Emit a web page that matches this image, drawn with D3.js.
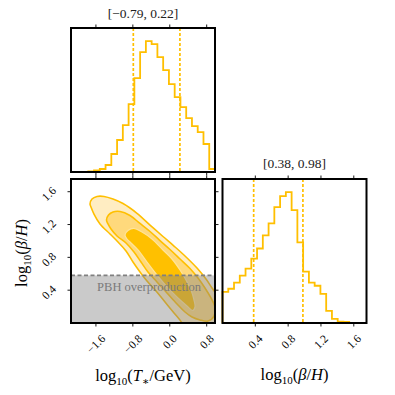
<!DOCTYPE html>
<html>
<head>
<meta charset="utf-8">
<script src="https://cdn.jsdelivr.net/npm/d3@7"></script>
<style>
  body { margin: 0; background: #fff; }
  text { font-family: "Liberation Serif", "DejaVu Serif", serif; }
</style>
</head>
<body>
<div id="chart"></div>
<script>
// ---- data ----
var tRange = [-2.14, 0.98];          // log10(T*/GeV) axis range
var bRange = [0, 1.755];             // log10(beta/H) axis range
var tTicks = [-1.6, -0.8, 0.0, 0.8];
var bTicks = [0.4, 0.8, 1.2, 1.6];
var tQuant = [-0.79, 0.22];
var bQuant = [0.38, 0.98];
var tTitle = "[\u22120.79, 0.22]";
var bTitle = "[0.38, 0.98]";

// 25 bins each
var tCounts = [0, 0, 0, 0.5, 1.5, 3, 7, 18, 32, 47, 68, 94, 120, 131, 128, 115, 102, 88, 75, 65, 54, 46, 40, 28, 3];
var bCounts = [31, 34, 40, 47, 54, 64, 74, 87, 99, 115, 126, 130, 112, 80, 51, 40, 37, 29, 12, 4, 1.3, 1, 0, 0, 0];

var pbhLimit = 0.58;
var pbhText = "PBH overproduction";

// contour outlines [log10 T, log10 beta/H]
var contourOuter = [[-1.728, 1.450], [-1.685, 1.511], [-1.577, 1.542], [-1.425, 1.542], [-1.230, 1.511],
  [-1.013, 1.456], [-0.710, 1.337], [-0.428, 1.194], [-0.147, 1.054], [0.092, 0.938], [0.330, 0.817],
  [0.590, 0.670], [0.785, 0.536], [0.915, 0.427], [1.132, 0.256], [1.348, 0.012], [1.262, -0.207],
  [0.438, -0.207], [0.265, 0.000], [0.092, 0.122], [-0.103, 0.256], [-0.298, 0.390], [-0.493, 0.512],
  [-0.645, 0.622], [-0.797, 0.743], [-0.948, 0.878], [-1.122, 0.987], [-1.295, 1.085], [-1.512, 1.207],
  [-1.642, 1.328], [-1.707, 1.414]];
var contourMiddle = [[-1.371, 1.255], [-1.327, 1.316], [-1.230, 1.353], [-1.078, 1.359], [-0.862, 1.310],
  [-0.645, 1.213], [-0.428, 1.115], [-0.212, 1.005], [0.005, 0.896], [0.222, 0.780], [0.438, 0.664],
  [0.612, 0.548], [0.763, 0.427], [0.893, 0.305], [0.980, 0.195], [0.958, 0.085], [0.828, 0.024],
  [0.655, 0.037], [0.482, 0.073], [0.330, 0.134], [0.157, 0.232], [-0.060, 0.366], [-0.277, 0.500],
  [-0.472, 0.622], [-0.623, 0.743], [-0.775, 0.865], [-0.948, 0.975], [-1.143, 1.060], [-1.273, 1.146],
  [-1.338, 1.207]];
var contourInner = [[-0.970, 1.073], [-0.905, 1.127], [-0.775, 1.152], [-0.602, 1.109], [-0.385, 1.024],
  [-0.147, 0.890], [0.048, 0.780], [0.222, 0.646], [0.352, 0.524], [0.460, 0.402], [0.525, 0.280],
  [0.547, 0.195], [0.493, 0.152], [0.373, 0.207], [0.178, 0.305], [-0.038, 0.427], [-0.277, 0.585],
  [-0.493, 0.743], [-0.688, 0.890], [-0.840, 0.975], [-0.927, 1.024]];

// ---- layout ----
var width = 395, height = 395;
var size = 144;
var left1 = 71, left2 = 222.5, top1 = 28, top2 = 179;
var orange = "#ffbf00";
var tickLen = 3.5;
var tickFont = 11.5;

var svg = d3.select("#chart").append("svg")
  .attr("width", width)
  .attr("height", height);

var xT = d3.scaleLinear().domain(tRange).range([left1, left1 + size]);
var yB = d3.scaleLinear().domain(bRange).range([top2 + size, top2]);
var xB = d3.scaleLinear().domain(bRange).range([left2, left2 + size]);

// step histogram path
function histPath(counts, range, xs, ys) {
  var n = counts.length;
  var w = (range[1] - range[0]) / n;
  var pts = [[range[0], 0]];
  counts.forEach(function(c, i) {
    pts.push([range[0] + i * w, c]);
    pts.push([range[0] + (i + 1) * w, c]);
  });
  pts.push([range[1], 0]);
  return d3.line()
    .x(function(d) { return xs(d[0]); })
    .y(function(d) { return ys(d[1]); })(pts);
}

// ticks for one side of a panel
function ticks(g, scale, side, vals, x0, y0) {
  vals.forEach(function(v) {
    var p = scale(v);
    var line = g.append("line").attr("stroke", "#000").attr("stroke-width", 0.9);
    if (side == "bottom") line.attr("x1", p).attr("x2", p).attr("y1", y0).attr("y2", y0 + tickLen);
    if (side == "top") line.attr("x1", p).attr("x2", p).attr("y1", y0).attr("y2", y0 - tickLen);
    if (side == "left") line.attr("y1", p).attr("y2", p).attr("x1", x0).attr("x2", x0 - tickLen);
    if (side == "right") line.attr("y1", p).attr("y2", p).attr("x1", x0).attr("x2", x0 + tickLen);
  });
}

function fmt(v) {
  var s = d3.format(".1f")(Math.abs(v));
  return (v < 0 ? "\u2212" : "") + s;
}

// rotated tick labels
function xLabels(g, scale, vals, y0) {
  vals.forEach(function(v) {
    var t = g.append("text")
      .attr("font-size", tickFont)
      .attr("text-anchor", "middle")
      .attr("dominant-baseline", "central")
      .text(fmt(v));
    var w = t.node().getComputedTextLength();
    var box = (w + tickFont) * 0.707;
    t.attr("transform", "translate(" + scale(v) + "," + (y0 + 9.5 + box / 2) + ") rotate(-45)");
  });
}
function yLabels(g, scale, vals, x0) {
  vals.forEach(function(v) {
    var t = g.append("text")
      .attr("font-size", tickFont)
      .attr("text-anchor", "middle")
      .attr("dominant-baseline", "central")
      .text(fmt(v));
    var w = t.node().getComputedTextLength();
    var box = (w + tickFont) * 0.707;
    t.attr("transform", "translate(" + (x0 - 13 - box / 2) + "," + (scale(v) + 2) + ") rotate(-45)");
  });
}

function frame(x, y) {
  svg.append("rect")
    .attr("x", x).attr("y", y)
    .attr("width", size).attr("height", size)
    .attr("fill", "none")
    .attr("stroke", "#000")
    .attr("stroke-width", 2);
}

function quantLines(g, scale, vals, y0) {
  vals.forEach(function(v) {
    g.append("line")
      .attr("x1", scale(v)).attr("x2", scale(v))
      .attr("y1", y0).attr("y2", y0 + size)
      .attr("stroke", orange)
      .attr("stroke-width", 1.7)
      .attr("stroke-dasharray", "3,2");
  });
}

// ---- top histogram (T*) ----
var gTop = svg.append("g");
var yTopHist = d3.scaleLinear().domain([0, 1.1 * d3.max(tCounts)]).range([top1 + size, top1]);
gTop.append("path")
  .attr("d", histPath(tCounts, tRange, xT, yTopHist))
  .attr("fill", "none")
  .attr("stroke", orange)
  .attr("stroke-width", 1.8);
quantLines(gTop, xT, tQuant, top1);
ticks(gTop, xT, "top", tTicks, 0, top1);
ticks(gTop, xT, "bottom", tTicks, 0, top1 + size);
frame(left1, top1);
svg.append("text")
  .attr("x", left1 + size / 2).attr("y", 17.5)
  .attr("text-anchor", "middle")
  .attr("font-size", 13.5)
  .attr("fill", "#222")
  .text(tTitle);

// ---- right histogram (beta/H) ----
var gRight = svg.append("g");
var yRightHist = d3.scaleLinear().domain([0, 1.1 * d3.max(bCounts)]).range([top2 + size, top2]);
gRight.append("path")
  .attr("d", histPath(bCounts, bRange, xB, yRightHist))
  .attr("fill", "none")
  .attr("stroke", orange)
  .attr("stroke-width", 1.8);
quantLines(gRight, xB, bQuant, top2);
ticks(gRight, xB, "top", bTicks, 0, top2);
ticks(gRight, xB, "bottom", bTicks, 0, top2 + size);
xLabels(gRight, xB, bTicks, top2 + size);
frame(left2, top2);
svg.append("text")
  .attr("x", left2 + size / 2).attr("y", 167.5)
  .attr("text-anchor", "middle")
  .attr("font-size", 13.5)
  .attr("fill", "#222")
  .text(bTitle);

// ---- 2d panel ----
svg.append("clipPath").attr("id", "clip2d")
  .append("rect").attr("x", left1).attr("y", top2).attr("width", size).attr("height", size);
var g2 = svg.append("g").attr("clip-path", "url(#clip2d)");

var contourLine = d3.line()
  .x(function(d) { return xT(d[0]); })
  .y(function(d) { return yB(d[1]); })
  .curve(d3.curveCatmullRomClosed.alpha(0.5));

g2.append("path").attr("d", contourLine(contourOuter))
  .attr("fill", "#ffedc2").attr("stroke", orange).attr("stroke-width", 1.6);
g2.append("path").attr("d", contourLine(contourMiddle))
  .attr("fill", "#ffd97c").attr("stroke", orange).attr("stroke-width", 1.6);
g2.append("path").attr("d", contourLine(contourInner))
  .attr("fill", "#ffc000").attr("stroke", "#ffe49a").attr("stroke-width", 1.2);

// PBH overproduction region
g2.append("rect")
  .attr("x", left1).attr("width", size)
  .attr("y", yB(pbhLimit)).attr("height", yB(0) - yB(pbhLimit))
  .attr("fill", "#808080").attr("opacity", 0.42);
g2.append("line")
  .attr("x1", left1).attr("x2", left1 + size)
  .attr("y1", yB(pbhLimit)).attr("y2", yB(pbhLimit))
  .attr("stroke", "#808080").attr("stroke-width", 1.6)
  .attr("stroke-dasharray", "4,2.5");
g2.append("text")
  .attr("x", 149).attr("y", yB(pbhLimit) + 15.5)
  .attr("text-anchor", "middle")
  .attr("font-size", 12.5)
  .attr("fill", "#7a7a7a")
  .text(pbhText);

ticks(svg, xT, "bottom", tTicks, 0, top2 + size);
ticks(svg, xT, "top", tTicks, 0, top2);
ticks(svg, yB, "left", bTicks, left1, 0);
ticks(svg, yB, "right", bTicks, left1 + size, 0);
xLabels(svg, xT, tTicks, top2 + size);
yLabels(svg, yB, bTicks, left1);
frame(left1, top2);

// ---- axis titles ----
var xl = svg.append("text")
  .attr("x", left1 + size / 2).attr("y", 381)
  .attr("text-anchor", "middle")
  .attr("font-size", 16.5);
xl.append("tspan").text("log");
xl.append("tspan").attr("font-size", 11).attr("dy", 4).text("10");
xl.append("tspan").attr("dy", -4).text("(");
xl.append("tspan").attr("font-style", "italic").text("T");
xl.append("tspan").attr("font-size", 11).attr("dy", 4).text("\u2217");
xl.append("tspan").attr("dy", -4).text("/GeV)");

function betaLabel(t) {
  t.append("tspan").text("log");
  t.append("tspan").attr("font-size", 11).attr("dy", 4).text("10");
  t.append("tspan").attr("dy", -4).text("(");
  t.append("tspan").attr("font-style", "italic").text("\u03b2");
  t.append("tspan").text("/");
  t.append("tspan").attr("font-style", "italic").text("H");
  t.append("tspan").text(")");
}
var yl = svg.append("text")
  .attr("transform", "translate(27," + (top2 + size / 2 + 2) + ") rotate(-90)")
  .attr("text-anchor", "middle")
  .attr("font-size", 16.5);
betaLabel(yl);
var bl = svg.append("text")
  .attr("x", left2 + size / 2).attr("y", 380)
  .attr("text-anchor", "middle")
  .attr("font-size", 16.5);
betaLabel(bl);
</script>
</body>
</html>
